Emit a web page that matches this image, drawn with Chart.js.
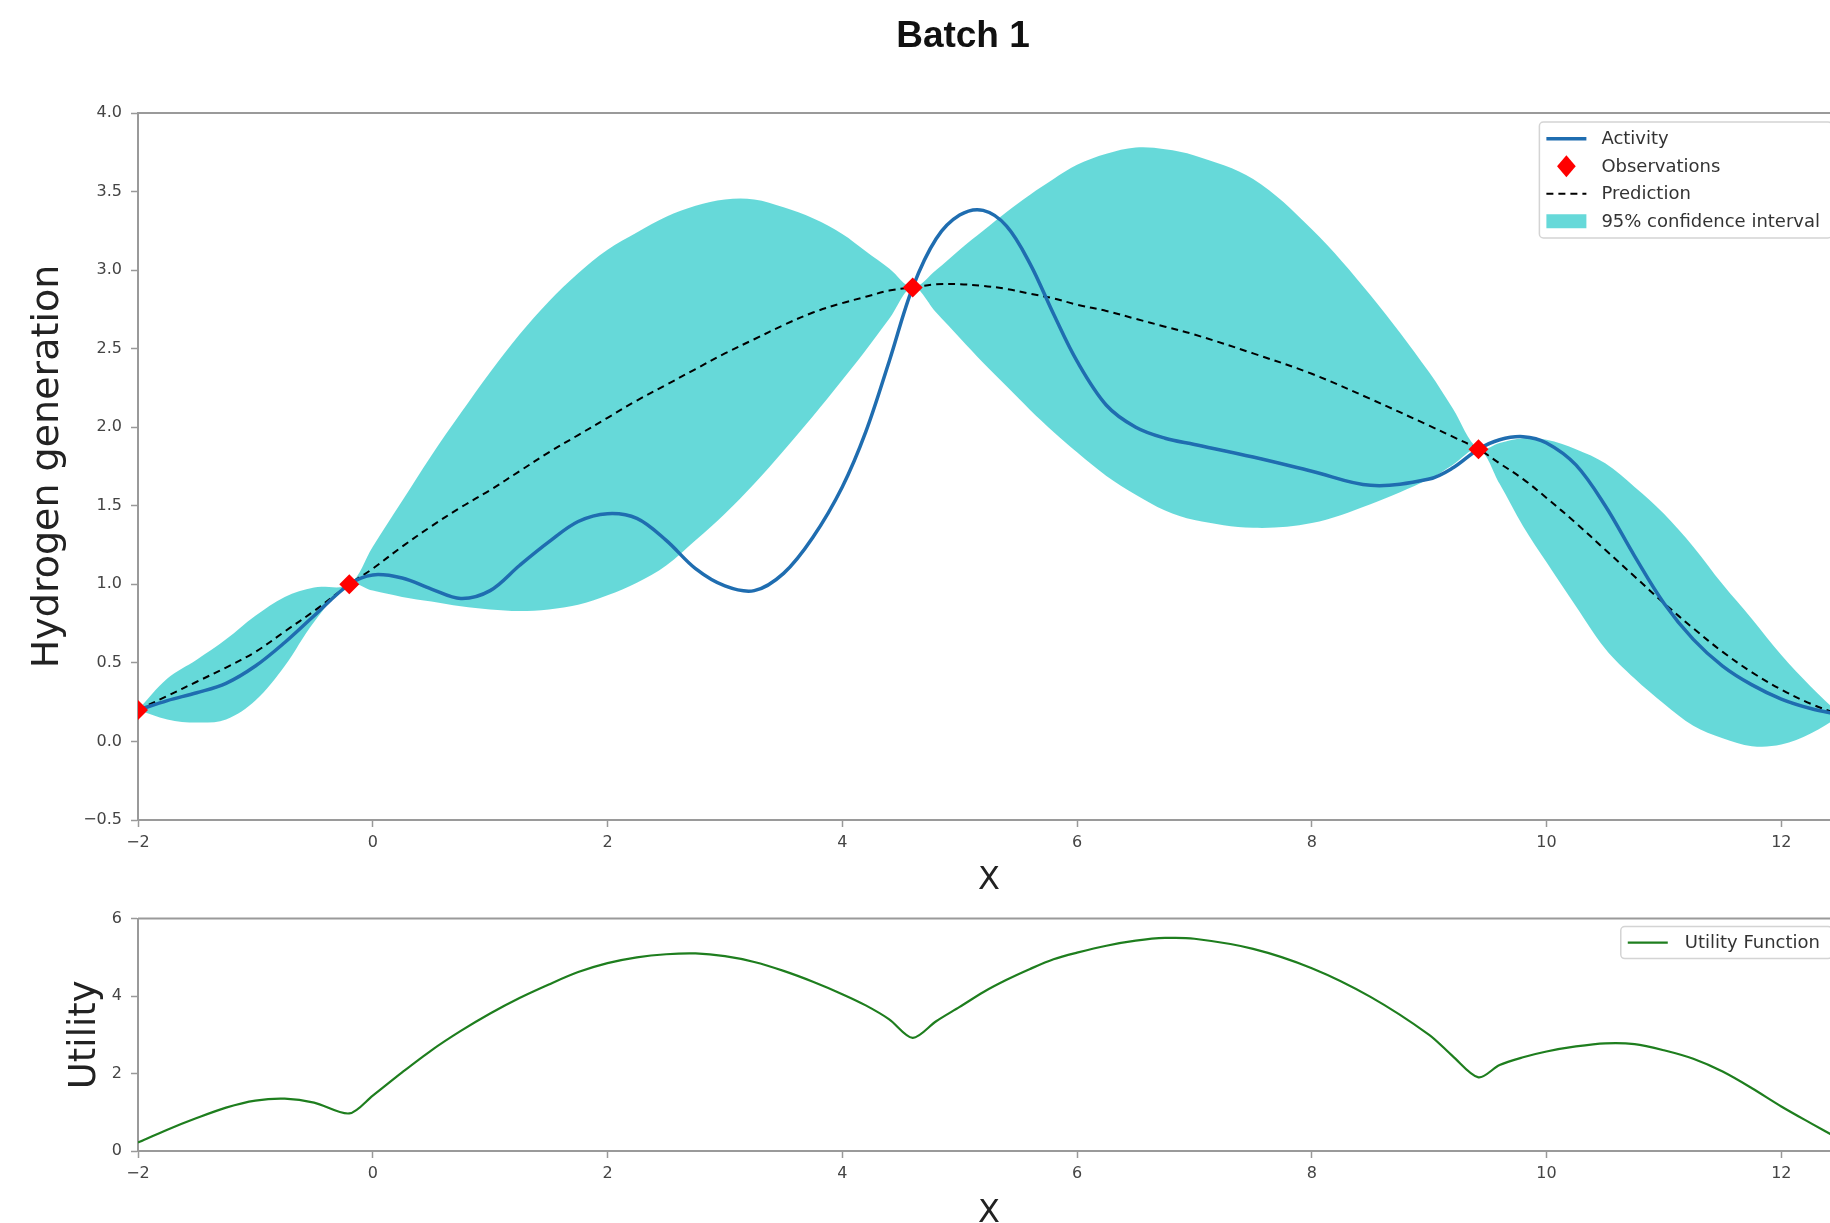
<!DOCTYPE html>
<html>
<head>
<meta charset="utf-8">
<title>Batch 1</title>
<script src="https://cdn.jsdelivr.net/npm/chart.js@4.4.1/dist/chart.umd.min.js"></script>
<style>
  html, body { margin: 0; padding: 0; background: #fff; overflow: hidden; }
  #wrap { position: relative; width: 1830px; height: 1223px; overflow: hidden; }
  canvas { position: absolute; left: 0; }
  #mainChart { top: 0; }
  #utilChart { top: 900px; }
</style>
</head>
<body>
<div id="wrap">
  <canvas id="mainChart" width="1926" height="900"></canvas>
  <canvas id="utilChart" width="1926" height="340"></canvas>
</div>
<script>
// sample positions along x (shared by every curve)
const xs = [-2, -1.75, -1.5, -1.25, -1, -0.75, -0.5, -0.2, 0, 0.25,
  0.5, 0.75, 1, 1.25, 1.5, 1.75, 2, 2.25, 2.5, 2.75,
  3, 3.25, 3.5, 3.75, 4, 4.2, 4.4, 4.6, 4.8, 5,
  5.2, 5.4, 5.6, 5.8, 6, 6.25, 6.5, 6.75, 7, 7.5,
  8, 8.5, 9, 9.2, 9.42, 9.6, 9.8, 10, 10.25, 10.5,
  10.75, 11, 11.25, 11.5, 11.75, 12, 12.25, 12.5];

const activity = [0.20, 0.26, 0.31, 0.37, 0.48, 0.63, 0.80, 1.00, 1.06, 1.04,
  0.97, 0.91, 0.96, 1.12, 1.27, 1.40, 1.45, 1.42, 1.28, 1.10,
  0.99, 0.96, 1.07, 1.30, 1.62, 1.97, 2.42, 2.89, 3.20, 3.35,
  3.38, 3.28, 3.04, 2.72, 2.42, 2.14, 2.00, 1.93, 1.89, 1.81,
  1.72, 1.63, 1.67, 1.74, 1.86, 1.92, 1.94, 1.90, 1.76, 1.50,
  1.18, 0.88, 0.65, 0.48, 0.36, 0.27, 0.21, 0.17];

const prediction = [0.20, 0.29, 0.38, 0.47, 0.57, 0.70, 0.83, 1.00, 1.10, 1.24,
  1.37, 1.49, 1.60, 1.72, 1.84, 1.95, 2.06, 2.17, 2.27, 2.37,
  2.47, 2.56, 2.65, 2.73, 2.79, 2.83, 2.87, 2.89, 2.91, 2.91,
  2.90, 2.88, 2.85, 2.82, 2.78, 2.74, 2.69, 2.64, 2.59, 2.47,
  2.34, 2.18, 2.01, 1.94, 1.86, 1.77, 1.67, 1.55, 1.39, 1.22,
  1.05, 0.88, 0.72, 0.57, 0.44, 0.33, 0.24, 0.17];

const ciUpper = [0.20, 0.40, 0.52, 0.65, 0.80, 0.92, 0.98, 1.00, 1.24, 1.53,
  1.82, 2.09, 2.35, 2.59, 2.80, 2.98, 3.13, 3.24, 3.34, 3.41,
  3.45, 3.45, 3.40, 3.33, 3.23, 3.12, 3.01, 2.89, 3.00, 3.13,
  3.25, 3.37, 3.48, 3.58, 3.67, 3.74, 3.78, 3.77, 3.73, 3.58,
  3.26, 2.84, 2.35, 2.12, 1.86, 1.90, 1.93, 1.92, 1.86, 1.77,
  1.62, 1.45, 1.24, 1.00, 0.78, 0.55, 0.35, 0.17];

const ciLower = [0.20, 0.14, 0.12, 0.14, 0.26, 0.48, 0.76, 1.00, 0.96, 0.92,
  0.89, 0.86, 0.84, 0.83, 0.84, 0.87, 0.93, 1.01, 1.12, 1.28,
  1.45, 1.64, 1.85, 2.07, 2.30, 2.49, 2.69, 2.89, 2.73, 2.57,
  2.41, 2.26, 2.11, 1.97, 1.84, 1.69, 1.57, 1.47, 1.41, 1.36,
  1.39, 1.51, 1.67, 1.76, 1.86, 1.64, 1.37, 1.14, 0.86, 0.59,
  0.40, 0.24, 0.10, 0.02, -0.03, -0.02, 0.05, 0.16];

const utility = [0.22, 0.55, 0.85, 1.12, 1.30, 1.35, 1.25, 0.97, 1.43, 2.03,
  2.60, 3.10, 3.55, 3.95, 4.30, 4.62, 4.85, 5.00, 5.08, 5.10,
  5.03, 4.88, 4.65, 4.37, 4.05, 3.76, 3.40, 2.92, 3.35, 3.72,
  4.10, 4.42, 4.70, 4.95, 5.12, 5.30, 5.43, 5.50, 5.48, 5.22,
  4.72, 3.98, 3.00, 2.45, 1.90, 2.22, 2.42, 2.57, 2.70, 2.78,
  2.76, 2.60, 2.38, 2.05, 1.62, 1.15, 0.72, 0.30];

const obsX = [-2, -0.2, 4.6, 9.42];
const obsY = [0.20, 1.00, 2.89, 1.86];

const pts = (xv, yv) => xv.map((x, i) => ({ x: x, y: yv[i] }));
const minus = s => String(s).replace('-', '\u2212');

Chart.defaults.font.family = '"DejaVu Sans", sans-serif';
Chart.defaults.color = '#444';
Chart.defaults.animation = false;

// top and right spines, like matplotlib
const boxFrame = {
    id: 'boxFrame',
    afterDatasetsDraw(chart) {
        const { ctx, chartArea: a } = chart;
        ctx.save();
        ctx.strokeStyle = '#9a9a9a';
        ctx.lineWidth = 2;
        ctx.beginPath();
        ctx.moveTo(a.left, a.top);
        ctx.lineTo(a.right, a.top);
        ctx.lineTo(a.right, a.bottom);
        ctx.stroke();
        ctx.restore();
    }
};

// figure title centred on the whole canvas
const figTitle = {
    id: 'figTitle',
    afterDraw(chart, args, opts) {
        if (!opts.text) return;
        const ctx = chart.ctx;
        ctx.save();
        ctx.font = 'bold 37px "Liberation Sans", Arial, sans-serif';
        ctx.fillStyle = '#111';
        ctx.textAlign = 'center';
        ctx.textBaseline = 'middle';
        ctx.fillText(opts.text, chart.width / 2, opts.y);
        ctx.restore();
    }
};

// legend drawn inside the plot, upper right
const innerLegend = {
    id: 'innerLegend',
    afterDraw(chart, args, opts) {
        if (!opts.labels) return;
        const { ctx, chartArea: a } = chart;
        const items = opts.labels.map(l => chart.data.datasets.find(d => d.label === l));
        ctx.save();
        ctx.font = '18px "DejaVu Sans", sans-serif';
        const textW = Math.max(...opts.labels.map(l => ctx.measureText(l).width));
        const w = opts.padLeft + 40 + opts.gap + textW + opts.padRight;
        const h = opts.padY * 2 + opts.rowH * items.length;
        const x0 = a.right - 8 - w;
        const y0 = a.top + opts.top;

        ctx.beginPath();
        ctx.roundRect(x0, y0, w, h, 4);
        ctx.fillStyle = 'rgba(255,255,255,0.8)';
        ctx.fill();
        ctx.strokeStyle = '#d4d4d4';
        ctx.lineWidth = 1.5;
        ctx.stroke();

        items.forEach((d, i) => {
            const cy = y0 + opts.padY + opts.rowH * (i + 0.5);
            const hx = x0 + opts.padLeft;
            if (d.showLine === false) {
                const r = 11;
                ctx.beginPath();
                ctx.moveTo(hx + 20, cy - r);
                ctx.lineTo(hx + 20 + r * 0.85, cy);
                ctx.lineTo(hx + 20, cy + r);
                ctx.lineTo(hx + 20 - r * 0.85, cy);
                ctx.closePath();
                ctx.fillStyle = d.pointBackgroundColor;
                ctx.fill();
            } else if (d.fill) {
                ctx.fillStyle = d.backgroundColor;
                ctx.fillRect(hx, cy - 7, 40, 14);
            } else {
                ctx.beginPath();
                ctx.setLineDash(d.borderDash || []);
                ctx.strokeStyle = d.borderColor;
                ctx.lineWidth = d.borderWidth;
                ctx.moveTo(hx, cy);
                ctx.lineTo(hx + 40, cy);
                ctx.stroke();
                ctx.setLineDash([]);
            }
            ctx.fillStyle = '#333';
            ctx.textAlign = 'left';
            ctx.textBaseline = 'middle';
            ctx.fillText(d.label, hx + 40 + opts.gap, cy + 1);
        });
        ctx.restore();
    }
};

const tickGrid = { drawOnChartArea: false, drawTicks: true, tickLength: 7, tickColor: '#999', tickWidth: 1.5 };
const axisBorder = { color: '#9a9a9a', width: 2 };

new Chart(document.getElementById('mainChart'), {
    type: 'line',
    data: {
        datasets: [
            {
                label: 'Observations',
                data: pts(obsX, obsY),
                showLine: false,
                pointStyle: 'rectRot',
                pointRadius: 10,
                pointBackgroundColor: '#ff0000',
                pointBorderWidth: 0,
                clip: 0,
                order: 0
            },
            {
                label: 'Activity',
                data: pts(xs, activity),
                borderColor: '#1f6db0',
                borderWidth: 3.5,
                pointRadius: 0,
                tension: 0.35,
                order: 1
            },
            {
                label: 'Prediction',
                data: pts(xs, prediction),
                borderColor: '#000000',
                borderWidth: 2,
                borderDash: [7, 5],
                pointRadius: 0,
                tension: 0.35,
                order: 2
            },
            {
                label: 'CI lower',
                data: pts(xs, ciLower),
                borderColor: 'rgba(0,0,0,0)',
                borderWidth: 0,
                pointRadius: 0,
                tension: 0.35,
                fill: false,
                order: 4
            },
            {
                label: '95% confidence interval',
                data: pts(xs, ciUpper),
                borderColor: 'rgba(0,0,0,0)',
                borderWidth: 0,
                backgroundColor: 'rgba(0,191,191,0.6)',
                pointRadius: 0,
                tension: 0.35,
                fill: '-1',
                order: 3
            }
        ]
    },
    options: {
        responsive: false,
        layout: { padding: { top: 113, right: 86 } },
        plugins: {
            legend: { display: false },
            tooltip: { enabled: false },
            filler: { drawTime: 'beforeDatasetsDraw' },
            figTitle: { text: 'Batch 1', y: 37 },
            innerLegend: {
                labels: ['Activity', 'Observations', 'Prediction', '95% confidence interval'],
                top: 9, padY: 3, rowH: 27.5, padLeft: 7, gap: 15, padRight: 12
            }
        },
        scales: {
            x: {
                type: 'linear',
                min: -2,
                max: 12.5,
                ticks: { stepSize: 2, includeBounds: false, autoSkip: false, maxRotation: 0,
                    padding: 6, font: { size: 16 }, color: '#444', callback: v => minus(v) },
                grid: tickGrid,
                border: axisBorder,
                title: { display: true, text: 'X', font: { size: 32 }, color: '#222', padding: { top: 0, bottom: 0 } },
                afterFit: s => { s.height = 80; }
            },
            y: {
                min: -0.5,
                max: 4.0,
                ticks: { stepSize: 0.5, padding: 9, font: { size: 16 }, color: '#444',
                    callback: v => minus(v.toFixed(1)) },
                grid: tickGrid,
                border: axisBorder,
                title: { display: true, text: 'Hydrogen generation', font: { size: 38 }, color: '#222',
                    padding: { top: 25, bottom: 0 } },
                afterFit: s => { s.width = 138; }
            }
        }
    },
    plugins: [boxFrame, figTitle, innerLegend]
});

new Chart(document.getElementById('utilChart'), {
    type: 'line',
    data: {
        datasets: [{
            label: 'Utility Function',
            data: pts(xs, utility),
            borderColor: '#1e7e1e',
            borderWidth: 2.2,
            pointRadius: 0,
            tension: 0.3
        }]
    },
    options: {
        responsive: false,
        layout: { padding: { top: 17, right: 86 } },
        plugins: {
            legend: { display: false },
            tooltip: { enabled: false },
            innerLegend: {
                labels: ['Utility Function'],
                top: 8, padY: 2, rowH: 28, padLeft: 7, gap: 17, padRight: 12
            }
        },
        scales: {
            x: {
                type: 'linear',
                min: -2,
                max: 12.5,
                ticks: { stepSize: 2, includeBounds: false, autoSkip: false, maxRotation: 0,
                    padding: 6, font: { size: 16 }, color: '#444', callback: v => minus(v) },
                grid: tickGrid,
                border: axisBorder,
                title: { display: true, text: 'X', font: { size: 32 }, color: '#222', padding: { top: 0, bottom: 7 } },
                afterFit: s => { s.height = 89; }
            },
            y: {
                min: 0,
                max: 6,
                ticks: { stepSize: 2, padding: 9, font: { size: 16 }, color: '#444', callback: v => minus(v) },
                grid: tickGrid,
                border: axisBorder,
                title: { display: true, text: 'Utility', font: { size: 37 }, color: '#222',
                    padding: { top: 63, bottom: 0 } },
                afterFit: s => { s.width = 138; }
            }
        }
    },
    plugins: [boxFrame, innerLegend]
});
</script>
</body>
</html>
